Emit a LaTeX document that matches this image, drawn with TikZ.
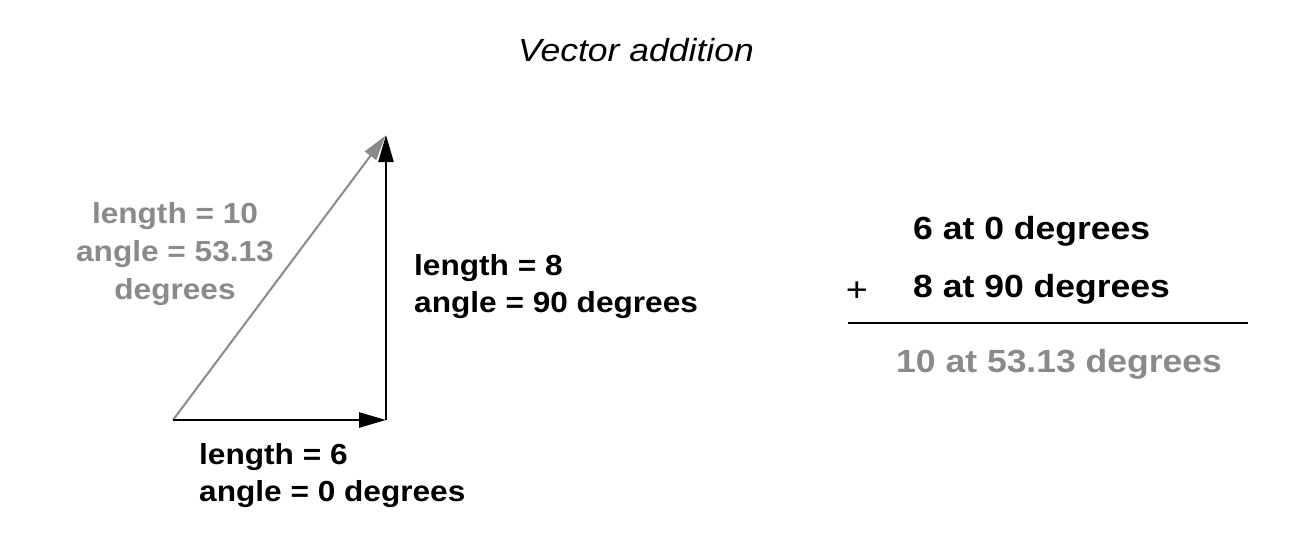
\documentclass[tikz,border=0pt]{standalone}
\usepackage{fontspec}
\setmainfont{Liberation Sans}
\newfontfamily\wlbl[FakeStretch=1.09]{Liberation Sans}
\newfontfamily\weq[FakeStretch=1.11]{Liberation Sans}
\usetikzlibrary{arrows.meta}
\definecolor{vgray}{RGB}{137,138,141}
\tikzset{
  vec/.style={line width=2.6pt, -{Triangle[length=27pt,width=15pt]}},
  gvec/.style={line width=2pt, draw=vgray, -{Triangle[length=25pt,width=14pt,fill=vgray]}},
  lbl/.style={inner sep=0pt, font=\wlbl\fontsize{29}{37}\selectfont\bfseries},
  eq/.style={inner sep=0pt, font=\weq\fontsize{32}{38}\selectfont\bfseries},
  ttl/.style={inner sep=0pt, font=\weq\fontsize{32}{38}\selectfont\itshape}
}
\begin{document}
\begin{tikzpicture}[x=1pt,y=-1pt]
\useasboundingbox (0,0) rectangle (1295,547);
\node[ttl] (title) at (636,50) {Vector addition};
\coordinate (O) at (173,420);
\coordinate (C) at (386,420);
\coordinate (T) at (386,135);
\draw[gvec, shorten >=1pt] (O) -- (T);
\draw[vec] (O) -- (C);
\draw[vec] (C) -- (T);
\node[lbl, text=vgray, align=center, font=\wlbl\fontsize{29}{38}\selectfont\bfseries] (glbl) at (175,254) {length = 10\\angle = 53.13\\degrees};
\node[lbl, align=left, anchor=west] (vlbl) at (414,287) {length = 8\\angle = 90 degrees};
\node[lbl, align=left, anchor=west] (hlbl) at (199,476) {length = 6\\angle = 0 degrees};
\node[eq, anchor=west] (e1) at (913,231) {6 at 0 degrees};
\node[eq, anchor=west] (e2) at (913,289) {8 at 90 degrees};
\node[inner sep=0pt, font=\weq\fontsize{34}{40}\selectfont] (plus) at (857,292) {+};
\coordinate (L1) at (848,323);
\coordinate (L2) at (1248,323);
\draw[line width=2pt] (L1) -- (L2);
\node[eq, anchor=west, text=vgray] (e3) at (896,364) {10 at 53.13 degrees};
\end{tikzpicture}
\end{document}
